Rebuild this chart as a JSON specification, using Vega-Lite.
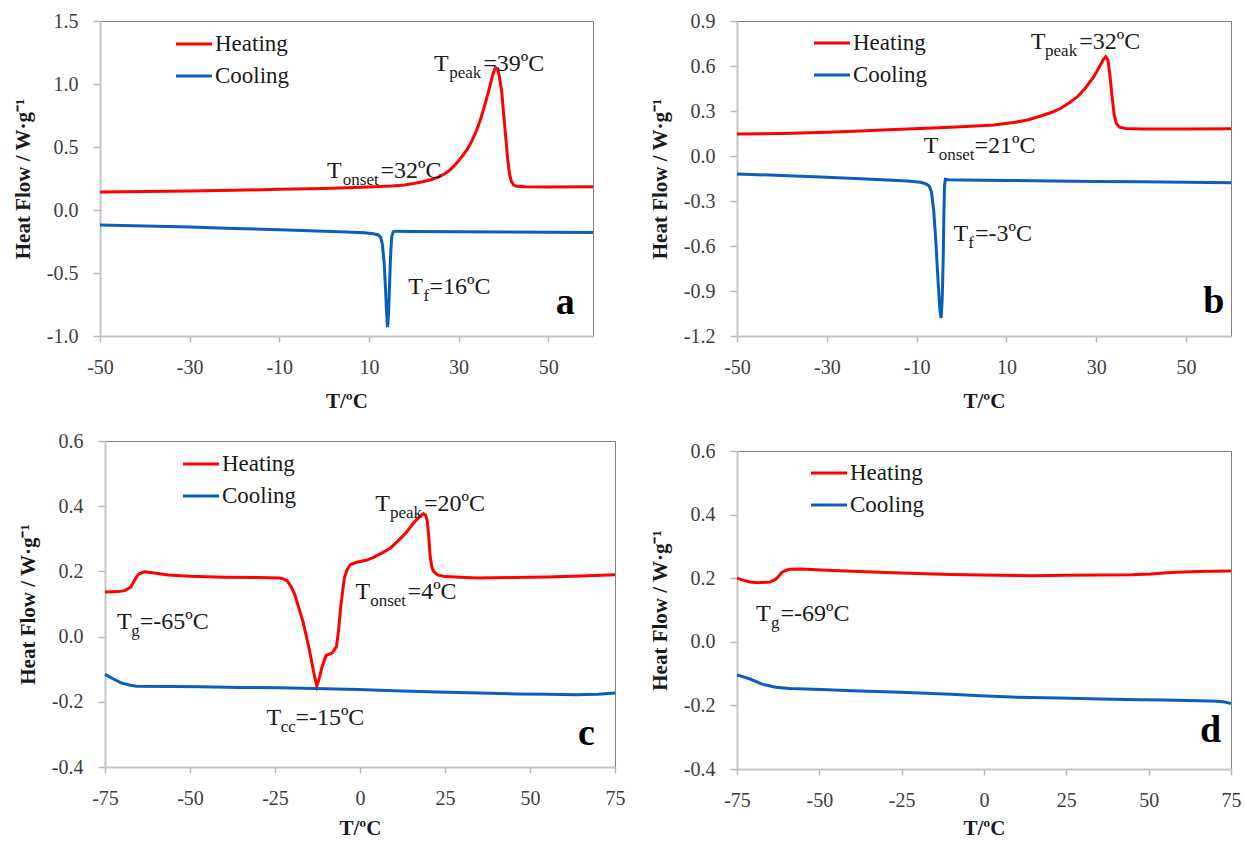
{
  "$schema": "https://vega.github.io/schema/vega-lite/v6.json",
  "background": "white",
  "padding": {"left": 11, "top": 10, "right": 0, "bottom": 0},
  "datasets": {
    "curves": [
      {"panel": "a", "series": "Heating", "T": -50, "HF": 0.143},
      {"panel": "a", "series": "Heating", "T": -40, "HF": 0.146},
      {"panel": "a", "series": "Heating", "T": -30, "HF": 0.150},
      {"panel": "a", "series": "Heating", "T": -20, "HF": 0.156},
      {"panel": "a", "series": "Heating", "T": -10, "HF": 0.164},
      {"panel": "a", "series": "Heating", "T": 0, "HF": 0.171},
      {"panel": "a", "series": "Heating", "T": 10, "HF": 0.182},
      {"panel": "a", "series": "Heating", "T": 15, "HF": 0.19},
      {"panel": "a", "series": "Heating", "T": 18, "HF": 0.198},
      {"panel": "a", "series": "Heating", "T": 20, "HF": 0.21},
      {"panel": "a", "series": "Heating", "T": 22, "HF": 0.224},
      {"panel": "a", "series": "Heating", "T": 24, "HF": 0.242},
      {"panel": "a", "series": "Heating", "T": 25.5, "HF": 0.26},
      {"panel": "a", "series": "Heating", "T": 27, "HF": 0.29},
      {"panel": "a", "series": "Heating", "T": 28, "HF": 0.315},
      {"panel": "a", "series": "Heating", "T": 29, "HF": 0.35},
      {"panel": "a", "series": "Heating", "T": 30, "HF": 0.39},
      {"panel": "a", "series": "Heating", "T": 31, "HF": 0.435},
      {"panel": "a", "series": "Heating", "T": 32, "HF": 0.485},
      {"panel": "a", "series": "Heating", "T": 33, "HF": 0.55},
      {"panel": "a", "series": "Heating", "T": 34, "HF": 0.63},
      {"panel": "a", "series": "Heating", "T": 35, "HF": 0.73},
      {"panel": "a", "series": "Heating", "T": 36, "HF": 0.85},
      {"panel": "a", "series": "Heating", "T": 36.9, "HF": 0.97},
      {"panel": "a", "series": "Heating", "T": 37.6, "HF": 1.07},
      {"panel": "a", "series": "Heating", "T": 38.2, "HF": 1.13},
      {"panel": "a", "series": "Heating", "T": 38.7, "HF": 1.12},
      {"panel": "a", "series": "Heating", "T": 39.1, "HF": 1.06},
      {"panel": "a", "series": "Heating", "T": 39.6, "HF": 0.95},
      {"panel": "a", "series": "Heating", "T": 40.2, "HF": 0.71},
      {"panel": "a", "series": "Heating", "T": 40.6, "HF": 0.55},
      {"panel": "a", "series": "Heating", "T": 41.0, "HF": 0.39},
      {"panel": "a", "series": "Heating", "T": 41.4, "HF": 0.28},
      {"panel": "a", "series": "Heating", "T": 41.8, "HF": 0.225},
      {"panel": "a", "series": "Heating", "T": 42.3, "HF": 0.198},
      {"panel": "a", "series": "Heating", "T": 43, "HF": 0.188},
      {"panel": "a", "series": "Heating", "T": 45, "HF": 0.184},
      {"panel": "a", "series": "Heating", "T": 50, "HF": 0.183},
      {"panel": "a", "series": "Heating", "T": 60, "HF": 0.184},

      {"panel": "a", "series": "Cooling", "T": -50, "HF": -0.119},
      {"panel": "a", "series": "Cooling", "T": -40, "HF": -0.127},
      {"panel": "a", "series": "Cooling", "T": -30, "HF": -0.135},
      {"panel": "a", "series": "Cooling", "T": -20, "HF": -0.146},
      {"panel": "a", "series": "Cooling", "T": -10, "HF": -0.157},
      {"panel": "a", "series": "Cooling", "T": 0, "HF": -0.168},
      {"panel": "a", "series": "Cooling", "T": 5, "HF": -0.174},
      {"panel": "a", "series": "Cooling", "T": 9, "HF": -0.181},
      {"panel": "a", "series": "Cooling", "T": 11, "HF": -0.188},
      {"panel": "a", "series": "Cooling", "T": 12, "HF": -0.196},
      {"panel": "a", "series": "Cooling", "T": 12.6, "HF": -0.215},
      {"panel": "a", "series": "Cooling", "T": 13.0, "HF": -0.27},
      {"panel": "a", "series": "Cooling", "T": 13.4, "HF": -0.42},
      {"panel": "a", "series": "Cooling", "T": 13.7, "HF": -0.62},
      {"panel": "a", "series": "Cooling", "T": 13.95, "HF": -0.82},
      {"panel": "a", "series": "Cooling", "T": 14.15, "HF": -0.93},
      {"panel": "a", "series": "Cooling", "T": 14.35, "HF": -0.85},
      {"panel": "a", "series": "Cooling", "T": 14.6, "HF": -0.6},
      {"panel": "a", "series": "Cooling", "T": 14.85, "HF": -0.35},
      {"panel": "a", "series": "Cooling", "T": 15.1, "HF": -0.21},
      {"panel": "a", "series": "Cooling", "T": 15.4, "HF": -0.175},
      {"panel": "a", "series": "Cooling", "T": 16, "HF": -0.168},
      {"panel": "a", "series": "Cooling", "T": 20, "HF": -0.17},
      {"panel": "a", "series": "Cooling", "T": 30, "HF": -0.172},
      {"panel": "a", "series": "Cooling", "T": 40, "HF": -0.174},
      {"panel": "a", "series": "Cooling", "T": 50, "HF": -0.176},
      {"panel": "a", "series": "Cooling", "T": 60, "HF": -0.179},

      {"panel": "b", "series": "Heating", "T": -50, "HF": 0.147},
      {"panel": "b", "series": "Heating", "T": -40, "HF": 0.15},
      {"panel": "b", "series": "Heating", "T": -30, "HF": 0.158},
      {"panel": "b", "series": "Heating", "T": -22.5, "HF": 0.167},
      {"panel": "b", "series": "Heating", "T": -15, "HF": 0.176},
      {"panel": "b", "series": "Heating", "T": -7.7, "HF": 0.185},
      {"panel": "b", "series": "Heating", "T": 0, "HF": 0.195},
      {"panel": "b", "series": "Heating", "T": 7.2, "HF": 0.207},
      {"panel": "b", "series": "Heating", "T": 12, "HF": 0.225},
      {"panel": "b", "series": "Heating", "T": 14.7, "HF": 0.24},
      {"panel": "b", "series": "Heating", "T": 18, "HF": 0.27},
      {"panel": "b", "series": "Heating", "T": 20, "HF": 0.29},
      {"panel": "b", "series": "Heating", "T": 22.1, "HF": 0.318},
      {"panel": "b", "series": "Heating", "T": 24, "HF": 0.355},
      {"panel": "b", "series": "Heating", "T": 25.8, "HF": 0.395},
      {"panel": "b", "series": "Heating", "T": 27.5, "HF": 0.45},
      {"panel": "b", "series": "Heating", "T": 29.5, "HF": 0.53},
      {"panel": "b", "series": "Heating", "T": 30.8, "HF": 0.6},
      {"panel": "b", "series": "Heating", "T": 31.6, "HF": 0.645},
      {"panel": "b", "series": "Heating", "T": 32.1, "HF": 0.662},
      {"panel": "b", "series": "Heating", "T": 32.6, "HF": 0.64},
      {"panel": "b", "series": "Heating", "T": 33.0, "HF": 0.55},
      {"panel": "b", "series": "Heating", "T": 33.5, "HF": 0.4},
      {"panel": "b", "series": "Heating", "T": 34.0, "HF": 0.27},
      {"panel": "b", "series": "Heating", "T": 34.5, "HF": 0.215},
      {"panel": "b", "series": "Heating", "T": 35.2, "HF": 0.192},
      {"panel": "b", "series": "Heating", "T": 36.5, "HF": 0.183},
      {"panel": "b", "series": "Heating", "T": 40, "HF": 0.18},
      {"panel": "b", "series": "Heating", "T": 50, "HF": 0.18},
      {"panel": "b", "series": "Heating", "T": 60, "HF": 0.181},

      {"panel": "b", "series": "Cooling", "T": -50, "HF": -0.12},
      {"panel": "b", "series": "Cooling", "T": -40, "HF": -0.13},
      {"panel": "b", "series": "Cooling", "T": -30, "HF": -0.142},
      {"panel": "b", "series": "Cooling", "T": -20, "HF": -0.155},
      {"panel": "b", "series": "Cooling", "T": -12, "HF": -0.167},
      {"panel": "b", "series": "Cooling", "T": -9.2, "HF": -0.175},
      {"panel": "b", "series": "Cooling", "T": -8, "HF": -0.185},
      {"panel": "b", "series": "Cooling", "T": -7.2, "HF": -0.2},
      {"panel": "b", "series": "Cooling", "T": -6.7, "HF": -0.24},
      {"panel": "b", "series": "Cooling", "T": -6.2, "HF": -0.36},
      {"panel": "b", "series": "Cooling", "T": -5.7, "HF": -0.58},
      {"panel": "b", "series": "Cooling", "T": -5.2, "HF": -0.85},
      {"panel": "b", "series": "Cooling", "T": -4.8, "HF": -1.03},
      {"panel": "b", "series": "Cooling", "T": -4.55, "HF": -1.08},
      {"panel": "b", "series": "Cooling", "T": -4.3, "HF": -0.95},
      {"panel": "b", "series": "Cooling", "T": -4.1, "HF": -0.7},
      {"panel": "b", "series": "Cooling", "T": -3.95, "HF": -0.42},
      {"panel": "b", "series": "Cooling", "T": -3.8, "HF": -0.2},
      {"panel": "b", "series": "Cooling", "T": -3.6, "HF": -0.155},
      {"panel": "b", "series": "Cooling", "T": -3.0, "HF": -0.158},
      {"panel": "b", "series": "Cooling", "T": 0, "HF": -0.16},
      {"panel": "b", "series": "Cooling", "T": 10, "HF": -0.163},
      {"panel": "b", "series": "Cooling", "T": 20, "HF": -0.166},
      {"panel": "b", "series": "Cooling", "T": 30, "HF": -0.17},
      {"panel": "b", "series": "Cooling", "T": 40, "HF": -0.172},
      {"panel": "b", "series": "Cooling", "T": 50, "HF": -0.175},
      {"panel": "b", "series": "Cooling", "T": 60, "HF": -0.178},

      {"panel": "c", "series": "Heating", "T": -75, "HF": 0.137},
      {"panel": "c", "series": "Heating", "T": -71, "HF": 0.138},
      {"panel": "c", "series": "Heating", "T": -69.2, "HF": 0.141},
      {"panel": "c", "series": "Heating", "T": -67.4, "HF": 0.152},
      {"panel": "c", "series": "Heating", "T": -66.2, "HF": 0.175},
      {"panel": "c", "series": "Heating", "T": -65.1, "HF": 0.192},
      {"panel": "c", "series": "Heating", "T": -63.4, "HF": 0.199},
      {"panel": "c", "series": "Heating", "T": -60, "HF": 0.194},
      {"panel": "c", "series": "Heating", "T": -56.4, "HF": 0.189},
      {"panel": "c", "series": "Heating", "T": -50, "HF": 0.185},
      {"panel": "c", "series": "Heating", "T": -40, "HF": 0.182},
      {"panel": "c", "series": "Heating", "T": -30, "HF": 0.181},
      {"panel": "c", "series": "Heating", "T": -23.8, "HF": 0.18},
      {"panel": "c", "series": "Heating", "T": -22.5, "HF": 0.177},
      {"panel": "c", "series": "Heating", "T": -21.4, "HF": 0.171},
      {"panel": "c", "series": "Heating", "T": -20.2, "HF": 0.152},
      {"panel": "c", "series": "Heating", "T": -19.1, "HF": 0.127},
      {"panel": "c", "series": "Heating", "T": -16.8, "HF": 0.047},
      {"panel": "c", "series": "Heating", "T": -15.0, "HF": -0.035},
      {"panel": "c", "series": "Heating", "T": -13.6, "HF": -0.11},
      {"panel": "c", "series": "Heating", "T": -12.7, "HF": -0.152},
      {"panel": "c", "series": "Heating", "T": -11.9, "HF": -0.125},
      {"panel": "c", "series": "Heating", "T": -11.2, "HF": -0.094},
      {"panel": "c", "series": "Heating", "T": -10.0, "HF": -0.058},
      {"panel": "c", "series": "Heating", "T": -8.1, "HF": -0.05},
      {"panel": "c", "series": "Heating", "T": -6.9, "HF": -0.03},
      {"panel": "c", "series": "Heating", "T": -6.3, "HF": 0.02},
      {"panel": "c", "series": "Heating", "T": -5.7, "HF": 0.088},
      {"panel": "c", "series": "Heating", "T": -5.1, "HF": 0.14},
      {"panel": "c", "series": "Heating", "T": -4.6, "HF": 0.18},
      {"panel": "c", "series": "Heating", "T": -3.8, "HF": 0.205},
      {"panel": "c", "series": "Heating", "T": -2.8, "HF": 0.221},
      {"panel": "c", "series": "Heating", "T": -1, "HF": 0.228},
      {"panel": "c", "series": "Heating", "T": 1.8, "HF": 0.234},
      {"panel": "c", "series": "Heating", "T": 4, "HF": 0.243},
      {"panel": "c", "series": "Heating", "T": 6.5, "HF": 0.257},
      {"panel": "c", "series": "Heating", "T": 9, "HF": 0.272},
      {"panel": "c", "series": "Heating", "T": 11.1, "HF": 0.293},
      {"panel": "c", "series": "Heating", "T": 13.5, "HF": 0.318},
      {"panel": "c", "series": "Heating", "T": 15.8, "HF": 0.349},
      {"panel": "c", "series": "Heating", "T": 17.5, "HF": 0.368},
      {"panel": "c", "series": "Heating", "T": 18.7, "HF": 0.377},
      {"panel": "c", "series": "Heating", "T": 19.3, "HF": 0.372},
      {"panel": "c", "series": "Heating", "T": 19.8, "HF": 0.354},
      {"panel": "c", "series": "Heating", "T": 20.2, "HF": 0.31},
      {"panel": "c", "series": "Heating", "T": 20.6, "HF": 0.25},
      {"panel": "c", "series": "Heating", "T": 21.1, "HF": 0.215},
      {"panel": "c", "series": "Heating", "T": 21.6, "HF": 0.201},
      {"panel": "c", "series": "Heating", "T": 22.8, "HF": 0.189},
      {"panel": "c", "series": "Heating", "T": 25, "HF": 0.184},
      {"panel": "c", "series": "Heating", "T": 34.4, "HF": 0.18},
      {"panel": "c", "series": "Heating", "T": 45, "HF": 0.181},
      {"panel": "c", "series": "Heating", "T": 55, "HF": 0.183},
      {"panel": "c", "series": "Heating", "T": 65, "HF": 0.186},
      {"panel": "c", "series": "Heating", "T": 75, "HF": 0.19},

      {"panel": "c", "series": "Cooling", "T": -75, "HF": -0.116},
      {"panel": "c", "series": "Cooling", "T": -72.5, "HF": -0.13},
      {"panel": "c", "series": "Cooling", "T": -70.3, "HF": -0.142},
      {"panel": "c", "series": "Cooling", "T": -67.5, "HF": -0.149},
      {"panel": "c", "series": "Cooling", "T": -65.7, "HF": -0.152},
      {"panel": "c", "series": "Cooling", "T": -55, "HF": -0.153},
      {"panel": "c", "series": "Cooling", "T": -47.1, "HF": -0.154},
      {"panel": "c", "series": "Cooling", "T": -35, "HF": -0.156},
      {"panel": "c", "series": "Cooling", "T": -23.8, "HF": -0.157},
      {"panel": "c", "series": "Cooling", "T": -10, "HF": -0.16},
      {"panel": "c", "series": "Cooling", "T": -0.5, "HF": -0.162},
      {"panel": "c", "series": "Cooling", "T": 10, "HF": -0.166},
      {"panel": "c", "series": "Cooling", "T": 22.8, "HF": -0.17},
      {"panel": "c", "series": "Cooling", "T": 35, "HF": -0.173},
      {"panel": "c", "series": "Cooling", "T": 46.1, "HF": -0.176},
      {"panel": "c", "series": "Cooling", "T": 55, "HF": -0.177},
      {"panel": "c", "series": "Cooling", "T": 63.5, "HF": -0.178},
      {"panel": "c", "series": "Cooling", "T": 70, "HF": -0.177},
      {"panel": "c", "series": "Cooling", "T": 75, "HF": -0.173},

      {"panel": "d", "series": "Heating", "T": -75, "HF": 0.2},
      {"panel": "d", "series": "Heating", "T": -73, "HF": 0.193},
      {"panel": "d", "series": "Heating", "T": -71, "HF": 0.188},
      {"panel": "d", "series": "Heating", "T": -68.6, "HF": 0.186},
      {"panel": "d", "series": "Heating", "T": -65, "HF": 0.188},
      {"panel": "d", "series": "Heating", "T": -63.2, "HF": 0.197},
      {"panel": "d", "series": "Heating", "T": -62.2, "HF": 0.208},
      {"panel": "d", "series": "Heating", "T": -61.4, "HF": 0.218},
      {"panel": "d", "series": "Heating", "T": -60, "HF": 0.225},
      {"panel": "d", "series": "Heating", "T": -59, "HF": 0.228},
      {"panel": "d", "series": "Heating", "T": -55.4, "HF": 0.229},
      {"panel": "d", "series": "Heating", "T": -49.4, "HF": 0.226},
      {"panel": "d", "series": "Heating", "T": -40, "HF": 0.222},
      {"panel": "d", "series": "Heating", "T": -25.3, "HF": 0.216},
      {"panel": "d", "series": "Heating", "T": -10, "HF": 0.212},
      {"panel": "d", "series": "Heating", "T": -1.2, "HF": 0.21},
      {"panel": "d", "series": "Heating", "T": 14.4, "HF": 0.208},
      {"panel": "d", "series": "Heating", "T": 25, "HF": 0.209},
      {"panel": "d", "series": "Heating", "T": 34.9, "HF": 0.21},
      {"panel": "d", "series": "Heating", "T": 45, "HF": 0.211},
      {"panel": "d", "series": "Heating", "T": 50.6, "HF": 0.213},
      {"panel": "d", "series": "Heating", "T": 56.6, "HF": 0.218},
      {"panel": "d", "series": "Heating", "T": 65, "HF": 0.221},
      {"panel": "d", "series": "Heating", "T": 75, "HF": 0.223},

      {"panel": "d", "series": "Cooling", "T": -75, "HF": -0.104},
      {"panel": "d", "series": "Cooling", "T": -71, "HF": -0.117},
      {"panel": "d", "series": "Cooling", "T": -67.4, "HF": -0.133},
      {"panel": "d", "series": "Cooling", "T": -63.2, "HF": -0.143},
      {"panel": "d", "series": "Cooling", "T": -59, "HF": -0.147},
      {"panel": "d", "series": "Cooling", "T": -49.4, "HF": -0.15},
      {"panel": "d", "series": "Cooling", "T": -40, "HF": -0.154},
      {"panel": "d", "series": "Cooling", "T": -25.3, "HF": -0.159},
      {"panel": "d", "series": "Cooling", "T": -10, "HF": -0.165},
      {"panel": "d", "series": "Cooling", "T": -1.2, "HF": -0.17},
      {"panel": "d", "series": "Cooling", "T": 10, "HF": -0.174},
      {"panel": "d", "series": "Cooling", "T": 22.9, "HF": -0.177},
      {"panel": "d", "series": "Cooling", "T": 35, "HF": -0.18},
      {"panel": "d", "series": "Cooling", "T": 46.9, "HF": -0.182},
      {"panel": "d", "series": "Cooling", "T": 55, "HF": -0.183},
      {"panel": "d", "series": "Cooling", "T": 65, "HF": -0.185},
      {"panel": "d", "series": "Cooling", "T": 71, "HF": -0.187},
      {"panel": "d", "series": "Cooling", "T": 73, "HF": -0.189},
      {"panel": "d", "series": "Cooling", "T": 75, "HF": -0.194}
    ],
    "notes": [
      {"panel": "a", "role": "main", "T": 24.5, "HF": 1.103, "label": "T"},
      {"panel": "a", "role": "sub", "T": 27.9, "HF": 1.103, "label": "peak"},
      {"panel": "a", "role": "main", "T": 35.5, "HF": 1.103, "label": "=39ºC"},
      {"panel": "a", "role": "main", "T": 0.67, "HF": 0.256, "label": "T"},
      {"panel": "a", "role": "sub", "T": 4.17, "HF": 0.256, "label": "onset"},
      {"panel": "a", "role": "main", "T": 12.6, "HF": 0.256, "label": "=32ºC"},
      {"panel": "a", "role": "main", "T": 18.8, "HF": -0.669, "label": "T"},
      {"panel": "a", "role": "sub", "T": 22.2, "HF": -0.669, "label": "f"},
      {"panel": "a", "role": "main", "T": 23.5, "HF": -0.669, "label": "=16ºC"},
      {"panel": "a", "role": "letter", "T": 51.7, "HF": -0.828, "label": "a"},

      {"panel": "b", "role": "main", "T": 15.4, "HF": 0.711, "label": "T"},
      {"panel": "b", "role": "sub", "T": 18.6, "HF": 0.711, "label": "peak"},
      {"panel": "b", "role": "main", "T": 26.2, "HF": 0.711, "label": "=32ºC"},
      {"panel": "b", "role": "main", "T": -8.4, "HF": 0.022, "label": "T"},
      {"panel": "b", "role": "sub", "T": -5.1, "HF": 0.022, "label": "onset"},
      {"panel": "b", "role": "main", "T": 2.9, "HF": 0.022, "label": "=21ºC"},
      {"panel": "b", "role": "main", "T": -1.8, "HF": -0.567, "label": "T"},
      {"panel": "b", "role": "sub", "T": 1.5, "HF": -0.567, "label": "f"},
      {"panel": "b", "role": "main", "T": 3.0, "HF": -0.567, "label": "=-3ºC"},
      {"panel": "b", "role": "letter", "T": 53.8, "HF": -1.045, "label": "b"},

      {"panel": "c", "role": "main", "T": -71.5, "HF": 0.022, "label": "T"},
      {"panel": "c", "role": "sub", "T": -67.3, "HF": 0.022, "label": "g"},
      {"panel": "c", "role": "main", "T": -64.8, "HF": 0.022, "label": "=-65ºC"},
      {"panel": "c", "role": "main", "T": -1.3, "HF": 0.114, "label": "T"},
      {"panel": "c", "role": "sub", "T": 3.0, "HF": 0.114, "label": "onset"},
      {"panel": "c", "role": "main", "T": 14.0, "HF": 0.114, "label": "=4ºC"},
      {"panel": "c", "role": "main", "T": 4.5, "HF": 0.385, "label": "T"},
      {"panel": "c", "role": "sub", "T": 8.8, "HF": 0.385, "label": "peak"},
      {"panel": "c", "role": "main", "T": 18.8, "HF": 0.385, "label": "=20ºC"},
      {"panel": "c", "role": "main", "T": -27.5, "HF": -0.272, "label": "T"},
      {"panel": "c", "role": "sub", "T": -23.3, "HF": -0.272, "label": "cc"},
      {"panel": "c", "role": "main", "T": -19.0, "HF": -0.272, "label": "=-15ºC"},
      {"panel": "c", "role": "letter", "T": 64.1, "HF": -0.331, "label": "c"},

      {"panel": "d", "role": "main", "T": -69.2, "HF": 0.066, "label": "T"},
      {"panel": "d", "role": "sub", "T": -64.7, "HF": 0.066, "label": "g"},
      {"panel": "d", "role": "main", "T": -61.8, "HF": 0.066, "label": "=-69ºC"},
      {"panel": "d", "role": "letter", "T": 65.6, "HF": -0.316, "label": "d"}
    ]
  },
  "bounds": "flush",
  "spacing": 637,
  "resolve": {"scale": {"color": "independent"}, "legend": {"color": "independent"}},
  "hconcat": [
    {
      "bounds": "flush",
      "spacing": 105,
      "resolve": {"scale": {"color": "independent"}, "legend": {"color": "independent"}},
      "vconcat": [
        {
          "width": 493,
          "height": 315,
          "encoding": {
            "x": {"field": "T", "type": "quantitative", "scale": {"domain": [-50, 60], "nice": false, "zero": false},
                  "axis": {"values": [-50, -30, -10, 10, 30, 50], "format": "d", "title": "T/ºC"}},
            "y": {"field": "HF", "type": "quantitative", "scale": {"domain": [-1, 1.5], "nice": false, "zero": false},
                  "axis": {"values": [-1, -0.5, 0, 0.5, 1, 1.5], "format": ".1f", "title": "Heat Flow / W·g⁻¹"}}
          },
          "layer": [
            {
              "data": {"name": "curves"},
              "transform": [{"filter": "datum.panel === 'a'"}],
              "mark": {"type": "line", "strokeWidth": 3},
              "encoding": {
                "color": {"field": "series", "type": "nominal",
                          "scale": {"domain": ["Heating", "Cooling"], "range": ["#ff0000", "#0a5ec0"]},
                          "legend": {"orient": "none", "legendX": 74, "legendY": 3}}
              }
            },
            {
              "data": {"name": "notes"},
              "transform": [{"filter": "datum.panel === 'a' && datum.role === 'main'"}],
              "mark": {"type": "text", "align": "left", "baseline": "alphabetic", "fontSize": 24, "color": "#1a1a1a"},
              "encoding": {"text": {"field": "label"}}
            },
            {
              "data": {"name": "notes"},
              "transform": [{"filter": "datum.panel === 'a' && datum.role === 'sub'"}],
              "mark": {"type": "text", "align": "left", "baseline": "alphabetic", "fontSize": 17, "dy": 7, "color": "#1a1a1a"},
              "encoding": {"text": {"field": "label"}}
            },
            {
              "data": {"name": "notes"},
              "transform": [{"filter": "datum.panel === 'a' && datum.role === 'letter'"}],
              "mark": {"type": "text", "align": "left", "baseline": "alphabetic", "fontSize": 38, "fontWeight": "bold", "color": "#000000"},
              "encoding": {"text": {"field": "label"}}
            }
          ]
        },
        {
          "bounds": "flush",
          "spacing": 4,
          "resolve": {"scale": {"color": "independent"}, "legend": {"color": "independent"}},
          "hconcat": [
            {
              "width": 1,
              "height": 1,
              "view": {"stroke": null},
              "data": {"values": [{"v": 0}]},
              "mark": {"type": "point", "opacity": 0}
            },
            {
              "width": 510,
              "height": 326,
              "encoding": {
                "x": {"field": "T", "type": "quantitative", "scale": {"domain": [-75, 75], "nice": false, "zero": false},
                      "axis": {"values": [-75, -50, -25, 0, 25, 50, 75], "format": "d", "title": "T/ºC", "titleY": 61}},
                "y": {"field": "HF", "type": "quantitative", "scale": {"domain": [-0.4, 0.6], "nice": false, "zero": false},
                      "axis": {"values": [-0.4, -0.2, 0, 0.2, 0.4, 0.6], "format": ".1f", "title": "Heat Flow / W·g⁻¹"}}
              },
              "layer": [
                {
                  "data": {"name": "curves"},
                  "transform": [{"filter": "datum.panel === 'c'"}],
                  "mark": {"type": "line", "strokeWidth": 3},
                  "encoding": {
                    "color": {"field": "series", "type": "nominal",
                              "scale": {"domain": ["Heating", "Cooling"], "range": ["#ff0000", "#0a5ec0"]},
                              "legend": {"orient": "none", "legendX": 76, "legendY": 3}}
                  }
                },
                {
                  "data": {"name": "notes"},
                  "transform": [{"filter": "datum.panel === 'c' && datum.role === 'main'"}],
                  "mark": {"type": "text", "align": "left", "baseline": "alphabetic", "fontSize": 24, "color": "#1a1a1a"},
                  "encoding": {"text": {"field": "label"}}
                },
                {
                  "data": {"name": "notes"},
                  "transform": [{"filter": "datum.panel === 'c' && datum.role === 'sub'"}],
                  "mark": {"type": "text", "align": "left", "baseline": "alphabetic", "fontSize": 17, "dy": 7, "color": "#1a1a1a"},
                  "encoding": {"text": {"field": "label"}}
                },
                {
                  "data": {"name": "notes"},
                  "transform": [{"filter": "datum.panel === 'c' && datum.role === 'letter'"}],
                  "mark": {"type": "text", "align": "left", "baseline": "alphabetic", "fontSize": 38, "fontWeight": "bold", "color": "#000000"},
                  "encoding": {"text": {"field": "label"}}
                }
              ]
            }
          ]
        }
      ]
    },
    {
      "bounds": "flush",
      "spacing": 115,
      "resolve": {"scale": {"color": "independent"}, "legend": {"color": "independent"}},
      "vconcat": [
        {
          "width": 494,
          "height": 315,
          "encoding": {
            "x": {"field": "T", "type": "quantitative", "scale": {"domain": [-50, 60], "nice": false, "zero": false},
                  "axis": {"values": [-50, -30, -10, 10, 30, 50], "format": "d", "title": "T/ºC"}},
            "y": {"field": "HF", "type": "quantitative", "scale": {"domain": [-1.2, 0.9], "nice": false, "zero": false},
                  "axis": {"values": [-1.2, -0.9, -0.6, -0.3, 0, 0.3, 0.6, 0.9], "format": ".1f", "title": "Heat Flow / W·g⁻¹"}}
          },
          "layer": [
            {
              "data": {"name": "curves"},
              "transform": [{"filter": "datum.panel === 'b'"}],
              "mark": {"type": "line", "strokeWidth": 3},
              "encoding": {
                "color": {"field": "series", "type": "nominal",
                          "scale": {"domain": ["Heating", "Cooling"], "range": ["#ff0000", "#0a5ec0"]},
                          "legend": {"orient": "none", "legendX": 75, "legendY": 2}}
              }
            },
            {
              "data": {"name": "notes"},
              "transform": [{"filter": "datum.panel === 'b' && datum.role === 'main'"}],
              "mark": {"type": "text", "align": "left", "baseline": "alphabetic", "fontSize": 24, "color": "#1a1a1a"},
              "encoding": {"text": {"field": "label"}}
            },
            {
              "data": {"name": "notes"},
              "transform": [{"filter": "datum.panel === 'b' && datum.role === 'sub'"}],
              "mark": {"type": "text", "align": "left", "baseline": "alphabetic", "fontSize": 17, "dy": 7, "color": "#1a1a1a"},
              "encoding": {"text": {"field": "label"}}
            },
            {
              "data": {"name": "notes"},
              "transform": [{"filter": "datum.panel === 'b' && datum.role === 'letter'"}],
              "mark": {"type": "text", "align": "left", "baseline": "alphabetic", "fontSize": 38, "fontWeight": "bold", "color": "#000000"},
              "encoding": {"text": {"field": "label"}}
            }
          ]
        },
        {
          "width": 494,
          "height": 318,
          "encoding": {
            "x": {"field": "T", "type": "quantitative", "scale": {"domain": [-75, 75], "nice": false, "zero": false},
                  "axis": {"values": [-75, -50, -25, 0, 25, 50, 75], "format": "d", "title": "T/ºC", "titleY": 59}},
            "y": {"field": "HF", "type": "quantitative", "scale": {"domain": [-0.4, 0.6], "nice": false, "zero": false},
                  "axis": {"values": [-0.4, -0.2, 0, 0.2, 0.4, 0.6], "format": ".1f", "title": "Heat Flow / W·g⁻¹"}}
          },
          "layer": [
            {
              "data": {"name": "curves"},
              "transform": [{"filter": "datum.panel === 'd'"}],
              "mark": {"type": "line", "strokeWidth": 3},
              "encoding": {
                "color": {"field": "series", "type": "nominal",
                          "scale": {"domain": ["Heating", "Cooling"], "range": ["#ff0000", "#0a5ec0"]},
                          "legend": {"orient": "none", "legendX": 72, "legendY": 2}}
              }
            },
            {
              "data": {"name": "notes"},
              "transform": [{"filter": "datum.panel === 'd' && datum.role === 'main'"}],
              "mark": {"type": "text", "align": "left", "baseline": "alphabetic", "fontSize": 24, "color": "#1a1a1a"},
              "encoding": {"text": {"field": "label"}}
            },
            {
              "data": {"name": "notes"},
              "transform": [{"filter": "datum.panel === 'd' && datum.role === 'sub'"}],
              "mark": {"type": "text", "align": "left", "baseline": "alphabetic", "fontSize": 17, "dy": 7, "color": "#1a1a1a"},
              "encoding": {"text": {"field": "label"}}
            },
            {
              "data": {"name": "notes"},
              "transform": [{"filter": "datum.panel === 'd' && datum.role === 'letter'"}],
              "mark": {"type": "text", "align": "left", "baseline": "alphabetic", "fontSize": 38, "fontWeight": "bold", "color": "#000000"},
              "encoding": {"text": {"field": "label"}}
            }
          ]
        }
      ]
    }
  ],
  "config": {
    "font": "Liberation Serif",
    "locale": {"number": {"decimal": ".", "thousands": ",", "grouping": [3], "currency": ["$", ""], "minus": "-"}},
    "view": {"stroke": "#7f7f7f", "strokeWidth": 1},
    "text": {"font": "Liberation Serif"},
    "axis": {
      "grid": false,
      "labelFont": "Liberation Serif",
      "labelFontSize": 20,
      "labelColor": "#3d3d3d",
      "labelFlush": false,
      "labelOverlap": false,
      "titleFont": "Liberation Serif",
      "titleFontSize": 21,
      "titleFontWeight": "bold",
      "titleColor": "#1a1a1a",
      "domainColor": "#c4c4c4",
      "domainWidth": 2,
      "tickColor": "#b8b8b8",
      "tickWidth": 1.5
    },
    "axisX": {"tickSize": 6, "labelPadding": 15, "titleY": 65, "titleBaseline": "middle"},
    "axisY": {"tickSize": 7, "labelPadding": 15, "titleX": -77, "titleBaseline": "middle", "titleAngle": -90, "titleAlign": "center"},
    "legend": {
      "title": null,
      "direction": "vertical",
      "symbolType": "stroke",
      "symbolSize": 1300,
      "symbolStrokeWidth": 3,
      "labelFont": "Liberation Serif",
      "labelFontSize": 23,
      "labelColor": "#1a1a1a",
      "labelOffset": 1,
      "rowPadding": 0,
      "padding": 0
    }
  }
}
